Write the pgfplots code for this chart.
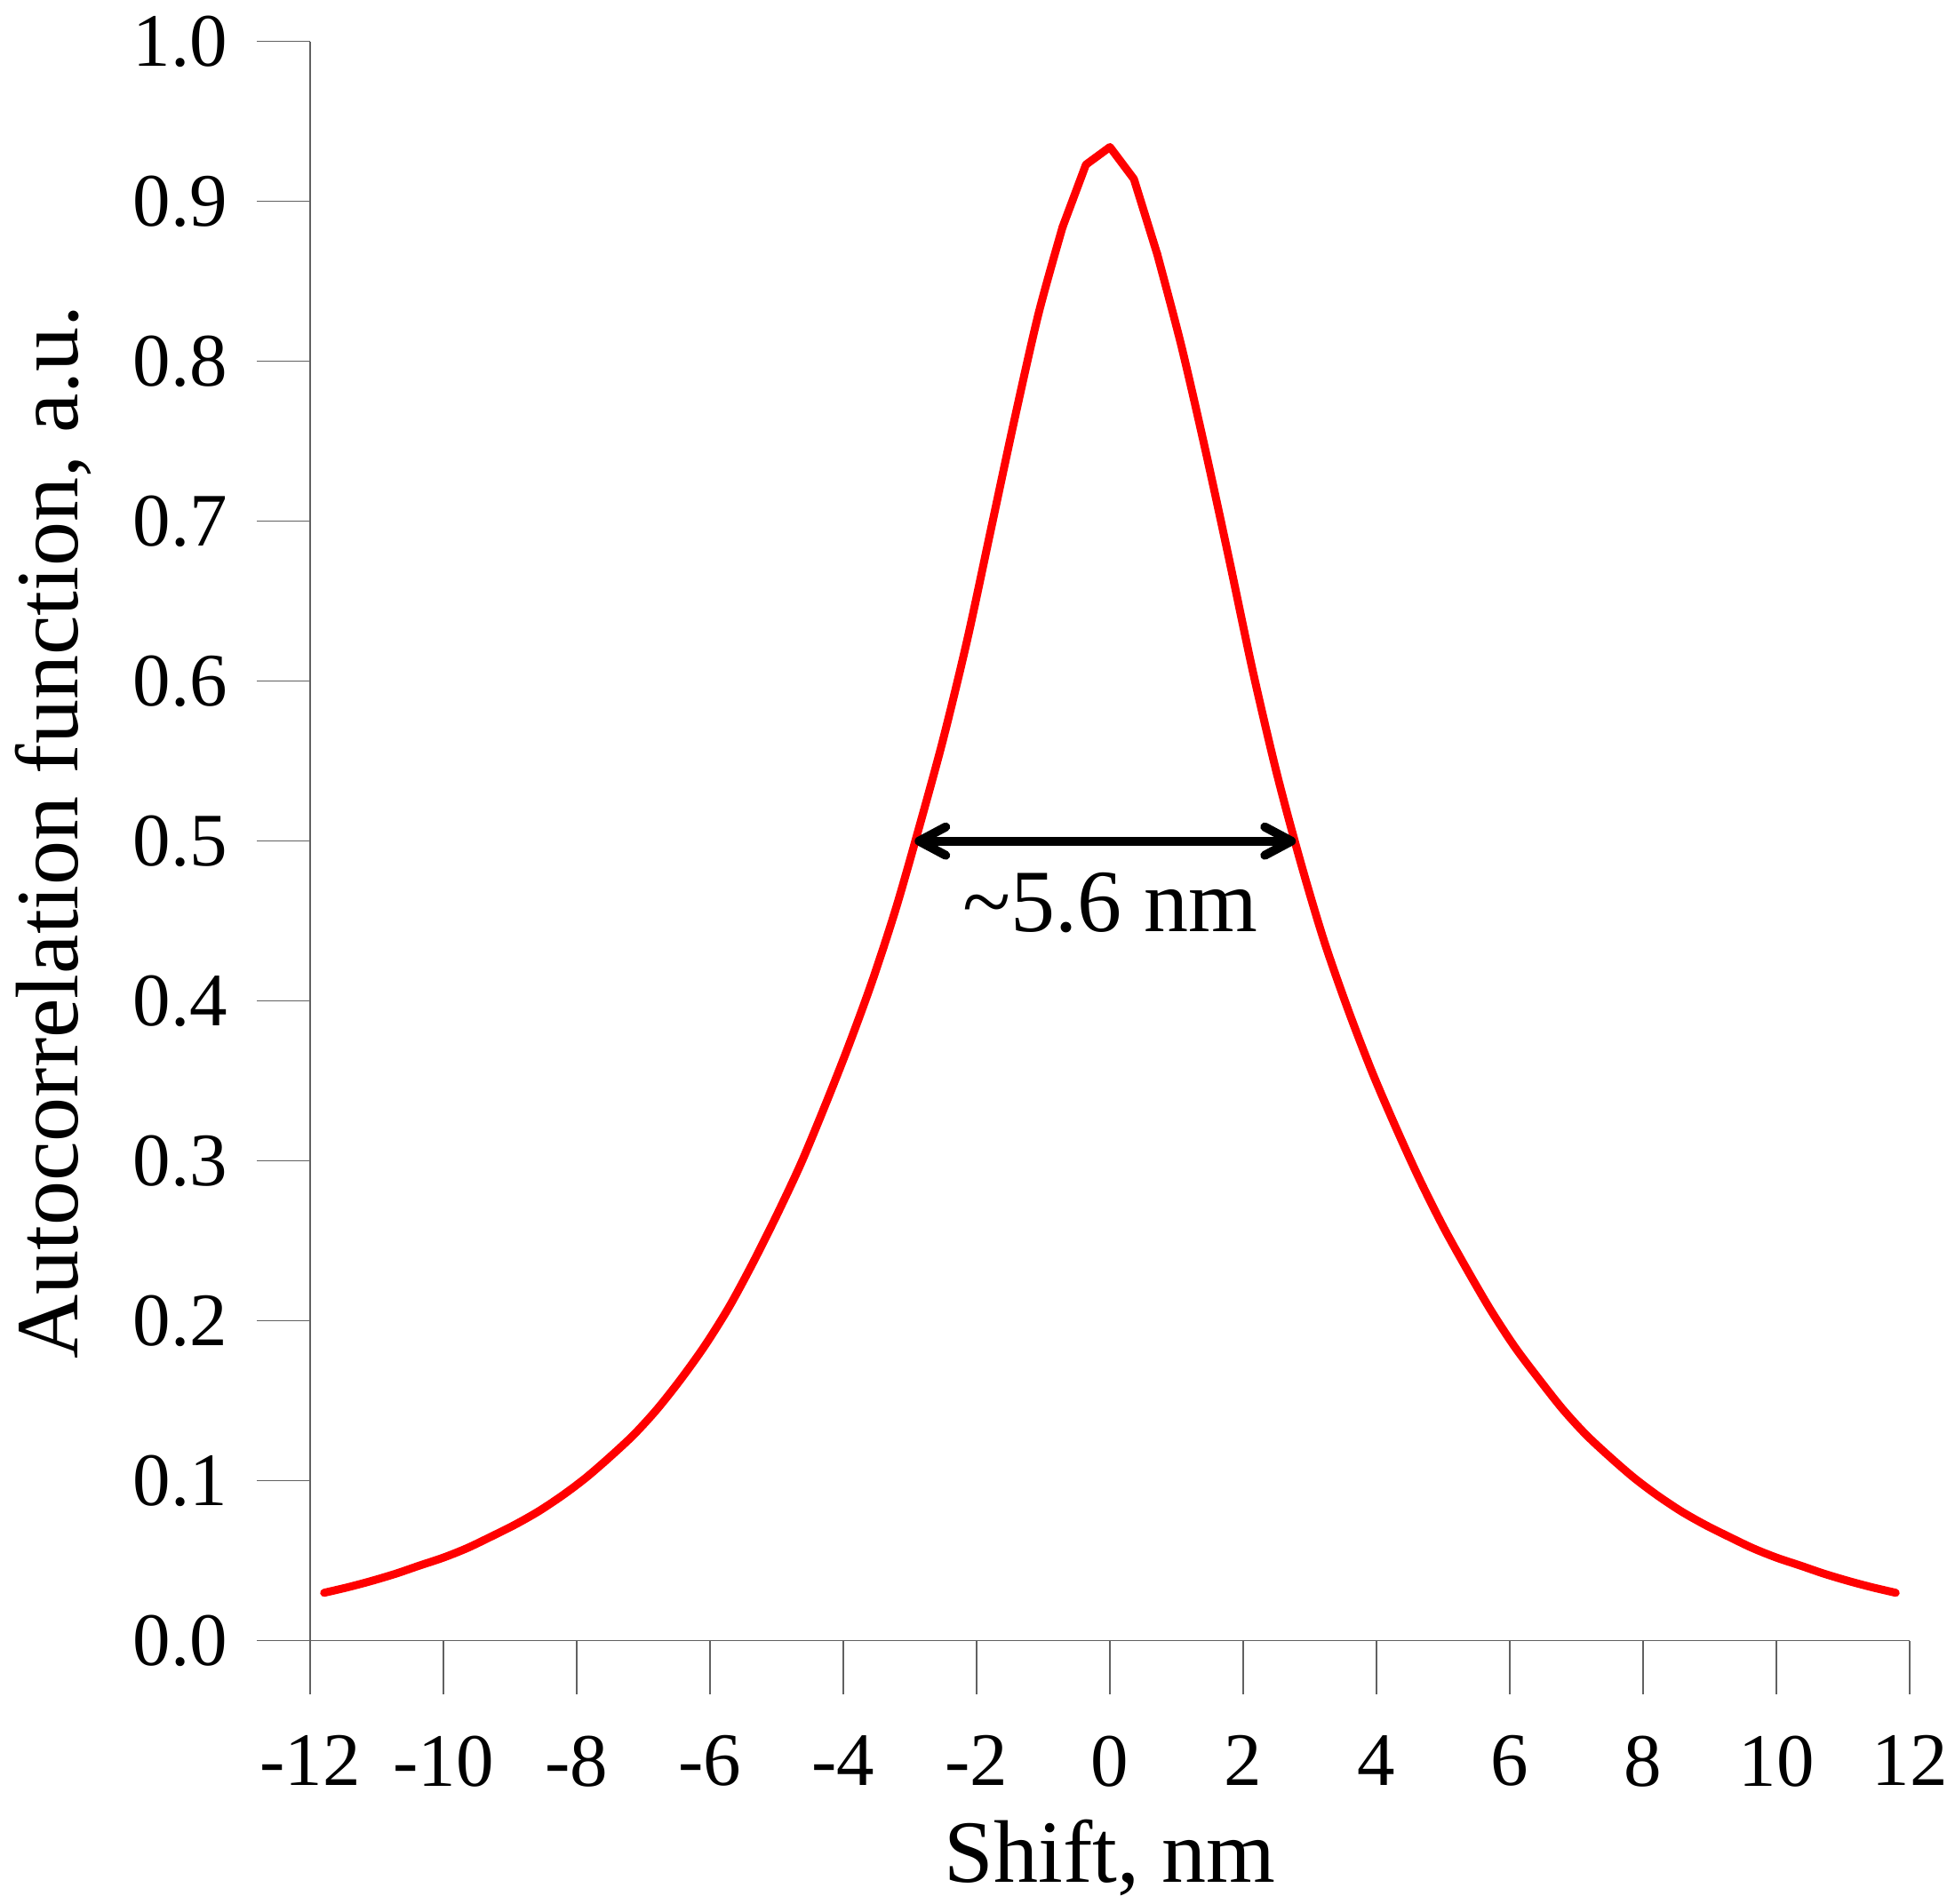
\documentclass[border=0pt]{standalone}
\usepackage{fontspec}
\setmainfont{Liberation Serif}
\usepackage{pgfplots}
\pgfplotsset{compat=1.18}
\usetikzlibrary{arrows.meta}
\begin{document}
\begin{tikzpicture}
\begin{axis}[
  name=ax,
  scale only axis, width=360pt, height=360pt,
  xmin=-12, xmax=12, ymin=0, ymax=1,
  axis lines*=left,
  axis line style={line width=0.3pt, color=black!62},
  every tick/.style={line width=0.3pt, color=black!62},
  tick align=outside,
  major tick length=12pt,
  xtick={-12,-10,-8,-6,-4,-2,0,2,4,6,8,10,12},
  xticklabels={-12,-10,-8,-6,-4,-2,0,2,4,6,8,10,12},
  ytick={0,0.1,0.2,0.3,0.4,0.5,0.6,0.7,0.8,0.9,1.0},
  yticklabels={0.0,0.1,0.2,0.3,0.4,0.5,0.6,0.7,0.8,0.9,1.0},
  minor tick num=0,
  xticklabel shift=9.2pt,
  yticklabel shift=6.4pt,
  xticklabel style={font=\fontsize{17}{20}\selectfont, inner sep=0pt, anchor=north},
  yticklabel style={font=\fontsize{17}{20}\selectfont, inner sep=0pt, anchor=east},
  xlabel={Shift, nm},
  ylabel={Autocorrelation function, a.u.},
  xlabel style={font=\fontsize{20}{24}\selectfont, inner sep=0pt, at={(axis description cs:0.5,0)}, anchor=base, yshift=-54.3pt},
  ylabel style={font=\fontsize{20}{24}\selectfont, inner sep=0pt, at={(axis description cs:-0.145,0.5056)}, anchor=base},
  clip=false,
  every axis plot/.append style={color=red, line width=1.8pt, line join=round, line cap=round, mark=none},
]
\addplot[smooth] coordinates {
(-11.79,0.030) (-11.43,0.0335) (-11.07,0.0375) (-10.71,0.042) (-10.36,0.047)
(-10.00,0.052) (-9.64,0.058) (-9.29,0.065) (-8.93,0.0725) (-8.57,0.081)
(-8.21,0.091) (-7.86,0.102) (-7.50,0.115) (-7.14,0.129) (-6.79,0.145)
(-6.43,0.164) (-6.07,0.185) (-5.71,0.209) (-5.36,0.236) (-5.00,0.266)
(-4.64,0.298) (-4.29,0.333) (-3.93,0.371) (-3.57,0.412) (-3.21,0.458)
(-2.86,0.509) (-2.50,0.564) (-2.14,0.626) (-1.79,0.694) (-1.43,0.764)
(-1.07,0.830) (-0.71,0.884)
};
\addplot[sharp plot] coordinates {
(-0.71,0.884) (-0.36,0.923) (0,0.934) (0.36,0.914) (0.71,0.867)
};
\addplot[smooth] coordinates {
(0.71,0.867) (1.07,0.810) (1.43,0.745) (1.79,0.676) (2.14,0.607)
(2.50,0.543) (2.86,0.487) (3.21,0.438) (3.57,0.395) (3.93,0.356)
(4.29,0.321) (4.64,0.289) (5.00,0.259) (5.36,0.232) (5.71,0.207)
(6.07,0.184) (6.43,0.164) (6.79,0.145) (7.14,0.129) (7.50,0.115)
(7.86,0.102) (8.21,0.091) (8.57,0.081) (8.93,0.0725) (9.29,0.065)
(9.64,0.058) (10.00,0.052) (10.36,0.047) (10.71,0.042) (11.07,0.0375)
(11.43,0.0335) (11.79,0.030)
};
\draw[line width=2pt, line cap=round, {Straight Barb[length=6pt,width=6.4pt,line cap=round,line join=round]}-{Straight Barb[length=6pt,width=6.4pt,line cap=round,line join=round]}]
  (axis cs:-2.93,0.5) -- (axis cs:2.79,0.5);
\node[font=\fontsize{20}{24}\selectfont, inner sep=0pt, anchor=base] at (axis cs:0.01,0.4437) {\textasciitilde 5.6 nm};
\end{axis}
\pgfresetboundingbox
\useasboundingbox (-69.8pt,-59.06pt) rectangle (368.4pt,369.34pt);
\end{tikzpicture}
\end{document}
